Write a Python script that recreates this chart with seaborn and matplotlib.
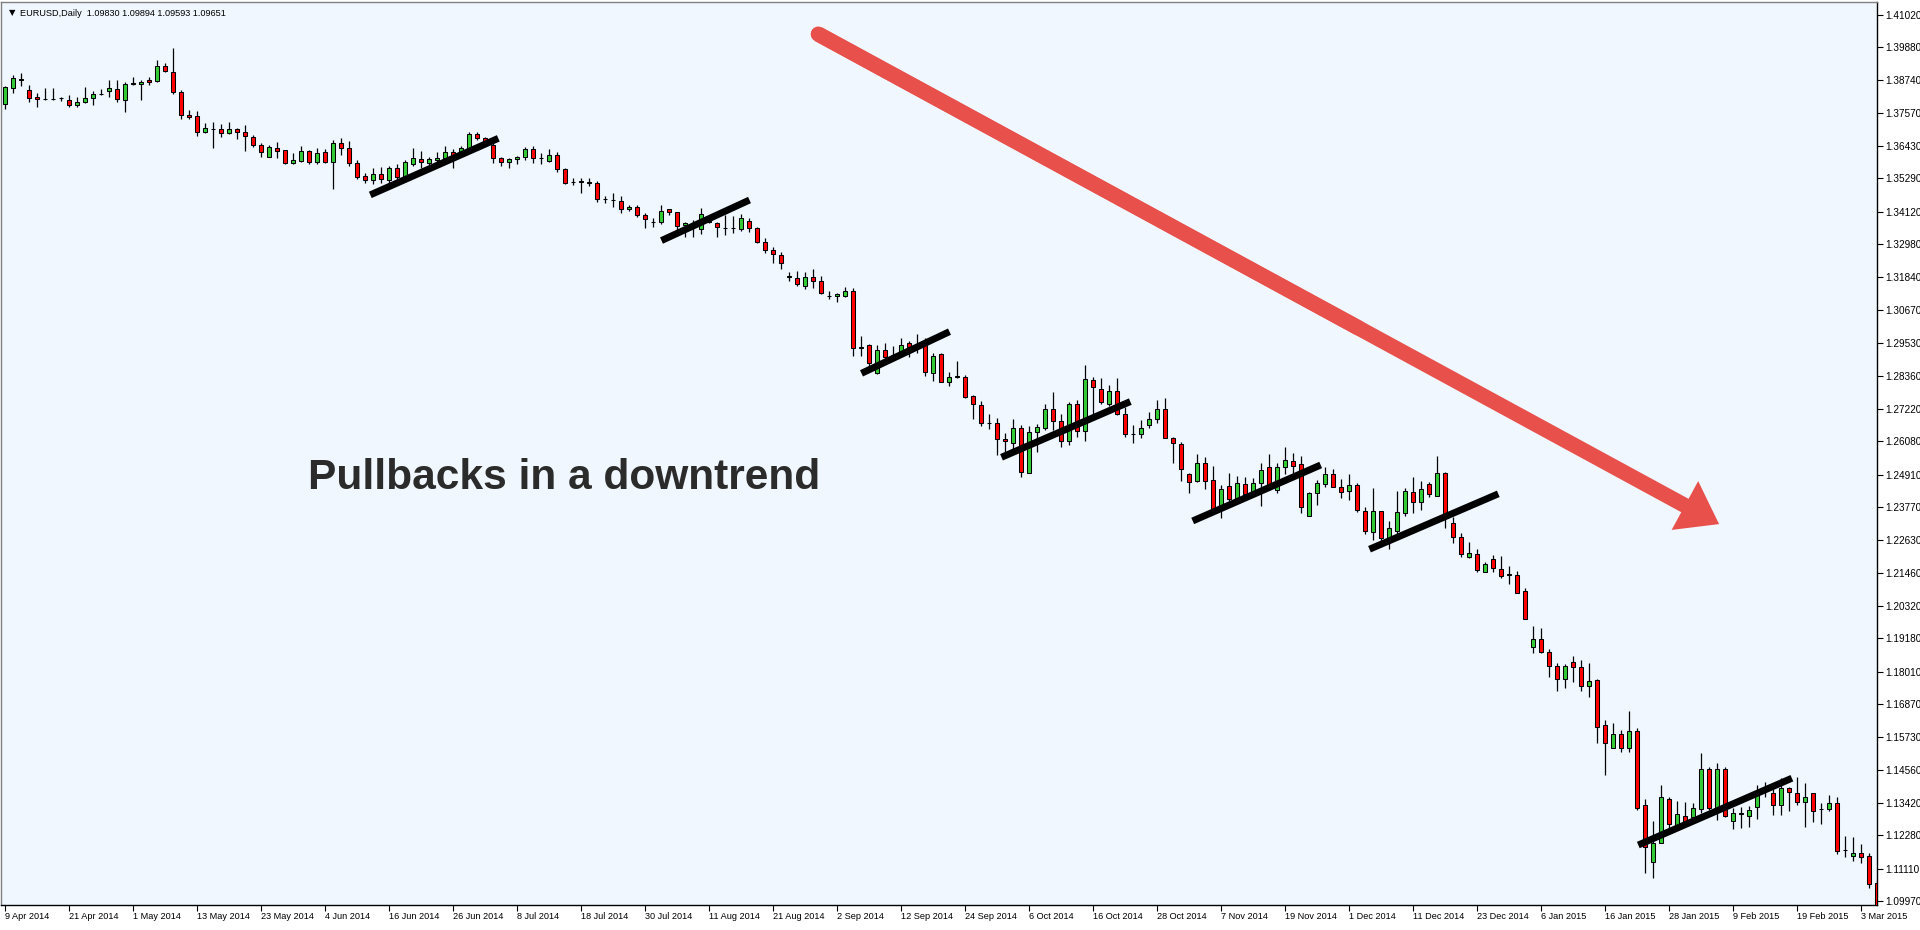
import numpy as np
import pandas as pd
import matplotlib
matplotlib.use("Agg")
import matplotlib.pyplot as plt
import seaborn as sns
from matplotlib.patches import FancyArrowPatch, ArrowStyle

# ---------------- data (EURUSD daily) ----------------
opens = [1.3789,1.3845,1.3877,1.3838,1.3813,1.3807,1.3807,1.3812,1.3803,1.3785,
1.3795,1.3809,1.3824,1.3834,1.3841,1.3803,1.3862,1.3858,1.3873,1.3869,
1.3921,1.3901,1.3830,1.3750,1.3746,1.3692,1.3702,1.3701,1.3687,1.3701,
1.3690,1.3675,1.3646,1.3605,1.3634,1.3628,1.3582,1.3590,1.3625,1.3587,
1.3620,1.3587,1.3652,1.3634,1.3582,1.3536,1.3522,1.3544,1.3523,1.3564,
1.3535,1.3579,1.3596,1.3582,1.3593,1.3599,1.3620,1.3620,1.3634,1.3683,
1.3669,1.3646,1.3599,1.3585,1.3596,1.3603,1.3631,1.3599,1.3591,1.3611,
1.3561,1.3517,1.3516,1.3517,1.3512,1.3457,1.3453,1.3451,1.3421,1.3427,
1.3401,1.3375,1.3377,1.3421,1.3412,1.3366,1.3371,1.3350,1.3377,1.3371,
1.3354,1.3354,1.3351,1.3381,1.3354,1.3307,1.3278,1.3260,1.3184,1.3179,
1.3153,1.3182,1.3170,1.3117,1.3117,1.3118,1.3135,1.2934,1.2944,1.2846,
1.2928,1.2910,1.2922,1.2951,1.2934,1.2957,1.2846,1.2913,1.2817,1.2834,
1.2834,1.2767,1.2735,1.2671,1.2671,1.2616,1.2601,1.2654,1.2496,1.2640,
1.2654,1.2720,1.2679,1.2610,1.2739,1.2645,1.2823,1.2791,1.2738,1.2785,
1.2703,1.2633,1.2634,1.2665,1.2685,1.2720,1.2619,1.2599,1.2492,1.2470,
1.2531,1.2472,1.2371,1.2453,1.2408,1.2457,1.2431,1.2461,1.2517,1.2437,
1.2517,1.2539,1.2527,1.2347,1.2426,1.2457,1.2492,1.2449,1.2435,1.2455,
1.2365,1.2291,1.2364,1.2268,1.2295,1.2356,1.2429,1.2394,1.2457,1.2417,
1.2496,1.2323,1.2272,1.2204,1.2212,1.2151,1.2195,1.2160,1.2141,1.2139,
1.2084,1.1887,1.1915,1.1871,1.1821,1.1774,1.1834,1.1816,1.1751,1.1772,
1.1613,1.1533,1.1582,1.1533,1.1593,1.1334,1.1134,1.1202,1.1354,1.1264,
1.1297,1.1291,1.1319,1.1459,1.1323,1.1459,1.1279,1.1304,1.1297,1.1326,
1.1383,1.1375,1.1333,1.1393,1.1375,1.1346,1.1375,1.1319,1.1319,1.1340,
1.1177,1.1157,1.1165,1.1156,1.1060]

highs = [1.3852,1.3891,1.3898,1.3856,1.3829,1.3845,1.3846,1.3815,1.3821,1.3815,
1.3848,1.3836,1.3841,1.3873,1.3873,1.3867,1.3883,1.3873,1.3883,1.3943,
1.3933,1.3984,1.3838,1.3768,1.3765,1.3722,1.3725,1.3719,1.3725,1.3704,
1.3716,1.3681,1.3652,1.3646,1.3657,1.3628,1.3617,1.3642,1.3628,1.3636,
1.3631,1.3663,1.3669,1.3660,1.3593,1.3547,1.3564,1.3570,1.3572,1.3578,
1.3593,1.3634,1.3625,1.3603,1.3620,1.3642,1.3631,1.3642,1.3690,1.3690,
1.3673,1.3652,1.3603,1.3599,1.3608,1.3640,1.3642,1.3617,1.3631,1.3620,
1.3564,1.3530,1.3530,1.3530,1.3520,1.3467,1.3477,1.3467,1.3436,1.3436,
1.3409,1.3389,1.3436,1.3421,1.3412,1.3377,1.3383,1.3424,1.3390,1.3377,
1.3400,1.3397,1.3404,1.3389,1.3360,1.3320,1.3288,1.3271,1.3200,1.3204,
1.3200,1.3210,1.3187,1.3134,1.3128,1.3147,1.3144,1.2977,1.2949,1.2945,
1.2951,1.2942,1.2969,1.2960,1.2984,1.2969,1.2918,1.2916,1.2852,1.2889,
1.2840,1.2770,1.2749,1.2704,1.2689,1.2636,1.2686,1.2665,1.2662,1.2669,
1.2739,1.2780,1.2704,1.2747,1.2753,1.2875,1.2832,1.2829,1.2805,1.2829,
1.2729,1.2665,1.2683,1.2710,1.2753,1.2759,1.2624,1.2607,1.2498,1.2564,
1.2554,1.2521,1.2455,1.2496,1.2486,1.2482,1.2478,1.2533,1.2564,1.2531,
1.2587,1.2566,1.2558,1.2431,1.2472,1.2517,1.2510,1.2475,1.2493,1.2461,
1.2377,1.2443,1.2364,1.2330,1.2434,1.2443,1.2482,1.2470,1.2467,1.2556,
1.2501,1.2342,1.2286,1.2256,1.2231,1.2186,1.2210,1.2206,1.2171,1.2154,
1.2093,1.1961,1.1953,1.1879,1.1830,1.1828,1.1856,1.1842,1.1830,1.1776,
1.1632,1.1621,1.1597,1.1663,1.1604,1.1354,1.1278,1.1404,1.1363,1.1348,
1.1346,1.1342,1.1517,1.1468,1.1480,1.1466,1.1323,1.1326,1.1331,1.1404,
1.1416,1.1393,1.1428,1.1398,1.1433,1.1410,1.1375,1.1340,1.1369,1.1361,
1.1226,1.1223,1.1198,1.1165,1.1070]

lows = [1.3772,1.3828,1.3852,1.3797,1.3780,1.3803,1.3803,1.3799,1.3778,1.3778,
1.3792,1.3785,1.3821,1.3815,1.3797,1.3762,1.3855,1.3803,1.3855,1.3865,
1.3901,1.3823,1.3737,1.3736,1.3678,1.3689,1.3636,1.3675,1.3683,1.3667,
1.3626,1.3640,1.3605,1.3603,1.3601,1.3578,1.3578,1.3587,1.3578,1.3578,
1.3584,1.3492,1.3611,1.3573,1.3526,1.3512,1.3509,1.3512,1.3512,1.3523,
1.3533,1.3573,1.3564,1.3576,1.3587,1.3591,1.3566,1.3617,1.3632,1.3663,
1.3652,1.3584,1.3573,1.3566,1.3578,1.3593,1.3582,1.3579,1.3587,1.3552,
1.3509,1.3506,1.3479,1.3502,1.3447,1.3444,1.3427,1.3409,1.3416,1.3392,
1.3356,1.3360,1.3369,1.3401,1.3348,1.3324,1.3324,1.3334,1.3371,1.3324,
1.3331,1.3337,1.3345,1.3342,1.3301,1.3267,1.3232,1.3210,1.3170,1.3152,
1.3140,1.3146,1.3123,1.3106,1.3097,1.3112,1.2908,1.2908,1.2872,1.2844,
1.2893,1.2893,1.2904,1.2904,1.2916,1.2837,1.2820,1.2817,1.2803,1.2829,
1.2761,1.2685,1.2663,1.2650,1.2560,1.2566,1.2578,1.2484,1.2496,1.2572,
1.2648,1.2648,1.2589,1.2595,1.2622,1.2610,1.2694,1.2739,1.2732,1.2700,
1.2622,1.2601,1.2621,1.2654,1.2671,1.2619,1.2533,1.2470,1.2426,1.2467,
1.2440,1.2367,1.2340,1.2396,1.2391,1.2414,1.2426,1.2381,1.2449,1.2428,
1.2493,1.2496,1.2358,1.2346,1.2385,1.2447,1.2447,1.2410,1.2402,1.2361,
1.2283,1.2262,1.2256,1.2231,1.2276,1.2346,1.2356,1.2367,1.2414,1.2417,
1.2305,1.2251,1.2204,1.2198,1.2149,1.2149,1.2151,1.2128,1.2108,1.2076,
1.1985,1.1868,1.1866,1.1784,1.1735,1.1745,1.1766,1.1735,1.1711,1.1550,
1.1439,1.1533,1.1521,1.1521,1.1317,1.1095,1.1078,1.1202,1.1253,1.1253,
1.1264,1.1284,1.1307,1.1317,1.1282,1.1291,1.1249,1.1253,1.1258,1.1284,
1.1361,1.1299,1.1299,1.1314,1.1334,1.1258,1.1276,1.1268,1.1314,1.1163,
1.1153,1.1139,1.1132,1.1043,1.0960]

closes = [1.3849,1.3880,1.3875,1.3811,1.3806,1.3806,1.3808,1.3809,1.3785,1.3796,
1.3809,1.3823,1.3823,1.3844,1.3806,1.3858,1.3859,1.3865,1.3865,1.3922,
1.3904,1.3830,1.3750,1.3743,1.3692,1.3704,1.3701,1.3687,1.3701,1.3692,
1.3677,1.3646,1.3622,1.3638,1.3626,1.3582,1.3592,1.3625,1.3587,1.3617,
1.3587,1.3652,1.3634,1.3584,1.3535,1.3522,1.3543,1.3528,1.3564,1.3535,
1.3585,1.3599,1.3587,1.3596,1.3599,1.3620,1.3608,1.3636,1.3684,1.3669,
1.3657,1.3599,1.3585,1.3596,1.3604,1.3631,1.3599,1.3600,1.3611,1.3561,
1.3514,1.3515,1.3518,1.3512,1.3456,1.3456,1.3452,1.3421,1.3427,1.3401,
1.3386,1.3376,1.3416,1.3410,1.3363,1.3371,1.3373,1.3403,1.3380,1.3357,
1.3355,1.3355,1.3389,1.3354,1.3307,1.3278,1.3264,1.3231,1.3186,1.3158,
1.3182,1.3170,1.3126,1.3116,1.3124,1.3135,1.2934,1.2939,1.2881,1.2928,
1.2904,1.2909,1.2944,1.2937,1.2935,1.2852,1.2908,1.2817,1.2834,1.2836,
1.2764,1.2738,1.2671,1.2672,1.2615,1.2609,1.2654,1.2499,1.2640,1.2657,
1.2720,1.2679,1.2609,1.2739,1.2644,1.2825,1.2797,1.2745,1.2785,1.2703,
1.2633,1.2634,1.2654,1.2685,1.2720,1.2619,1.2601,1.2510,1.2467,1.2531,
1.2470,1.2371,1.2440,1.2405,1.2461,1.2422,1.2461,1.2508,1.2455,1.2519,
1.2543,1.2523,1.2377,1.2426,1.2461,1.2492,1.2449,1.2431,1.2455,1.2367,
1.2295,1.2364,1.2268,1.2303,1.2359,1.2434,1.2396,1.2440,1.2422,1.2496,
1.2350,1.2272,1.2212,1.2216,1.2157,1.2177,1.2163,1.2136,1.2142,1.2076,
1.1985,1.1915,1.1871,1.1822,1.1774,1.1821,1.1816,1.1752,1.1770,1.1609,
1.1550,1.1582,1.1533,1.1593,1.1324,1.1188,1.1202,1.1361,1.1267,1.1302,
1.1276,1.1323,1.1459,1.1323,1.1459,1.1296,1.1305,1.1305,1.1317,1.1369,
1.1387,1.1333,1.1393,1.1379,1.1346,1.1361,1.1314,1.1320,1.1340,1.1174,
1.1178,1.1165,1.1153,1.1057,1.0975]

x_labels = ["9 Apr 2014", "21 Apr 2014", "1 May 2014", "13 May 2014", "23 May 2014",
            "4 Jun 2014", "16 Jun 2014", "26 Jun 2014", "8 Jul 2014", "18 Jul 2014",
            "30 Jul 2014", "11 Aug 2014", "21 Aug 2014", "2 Sep 2014", "12 Sep 2014",
            "24 Sep 2014", "6 Oct 2014", "16 Oct 2014", "28 Oct 2014", "7 Nov 2014",
            "19 Nov 2014", "1 Dec 2014", "11 Dec 2014", "23 Dec 2014", "6 Jan 2015",
            "16 Jan 2015", "28 Jan 2015", "9 Feb 2015", "19 Feb 2015", "3 Mar 2015"]
bars_per_label = 8

y_ticks = [1.41020, 1.39880, 1.38740, 1.37570, 1.36430, 1.35290, 1.34120, 1.32980,
           1.31840, 1.30670, 1.29530, 1.28360, 1.27220, 1.26080, 1.24910, 1.23770,
           1.22630, 1.21460, 1.20320, 1.19180, 1.18010, 1.16870, 1.15730, 1.14560,
           1.13420, 1.12280, 1.11110, 1.09970]

header_text = "EURUSD,Daily  1.09830 1.09894 1.09593 1.09651"
title_text = "Pullbacks in a downtrend"

# pullback trend lines: (bar0, price0, bar1, price1)
pullback_lines = [(45.6, 1.3471, 61.6, 1.3669),
                  (82.0, 1.3311, 93.0, 1.3453),
                  (107.0, 1.2846, 118.0, 1.2992),
                  (124.5, 1.2552, 140.6, 1.2747),
                  (148.4, 1.2329, 164.4, 1.2525),
                  (170.5, 1.2230, 186.6, 1.2424),
                  (204.1, 1.1194, 223.3, 1.1428)]
# big trend arrow (bar, price) start -> tip
arrow_start = (101.6, 1.4034)
arrow_tip = (214.2, 1.2318)

# ---------------- style ----------------
sns.set_style("white")
plt.rcParams['font.family'] = ['Liberation Sans', 'DejaVu Sans']

W, H = 1920, 930
fig = plt.figure(figsize=(W / 100, H / 100), dpi=100, facecolor="white")
ax = fig.add_axes([1 / W, 1 - 905 / H, 1876 / W, 903 / H])
ax.set_facecolor("#f0f7ff")

df = pd.DataFrame({"o": opens, "h": highs, "l": lows, "c": closes})
df["i"] = np.arange(len(df))

# wicks
ax.vlines(df["i"], df["l"], df["h"], color="black", linewidth=0.9, zorder=2)
# bodies
body_bottom = np.minimum(df["o"], df["c"])
body_h = np.maximum(np.abs(df["c"] - df["o"]), 0.00005)
colors = np.where(df["c"] > df["o"], "#32cd32", np.where(df["c"] < df["o"], "#ff0000", "black"))
ax.bar(df["i"], body_h, bottom=body_bottom, width=0.5, color=colors,
       edgecolor="black", linewidth=0.75, zorder=3)

# pullback lines via seaborn
seg_rows = []
for k, (x0, p0, x1, p1) in enumerate(pullback_lines):
    seg_rows.append({"seg": k, "x": x0, "y": p0})
    seg_rows.append({"seg": k, "x": x1, "y": p1})
seg_df = pd.DataFrame(seg_rows)
sns.lineplot(data=seg_df, x="x", y="y", units="seg", estimator=None, color="black",
             linewidth=5.0, ax=ax, zorder=5, solid_capstyle="butt", sort=False)

# big red arrow
red = "#e8504b"
ax.plot([arrow_start[0], arrow_start[0] + 0.6 * (arrow_tip[0] - arrow_start[0])],
        [arrow_start[1], arrow_start[1] + 0.6 * (arrow_tip[1] - arrow_start[1])],
        color=red, linewidth=11, solid_capstyle="round", zorder=6)
arr = FancyArrowPatch(arrow_start, arrow_tip,
                      arrowstyle=ArrowStyle.Simple(head_length=28, head_width=40, tail_width=11),
                      mutation_scale=1, color=red, linewidth=0, shrinkA=0, shrinkB=0, zorder=6)
ax.add_patch(arr)

# big text
ax.text(37.8, 1.2478, title_text, fontsize=30.6, fontweight="bold", color="#2b2b2b",
        ha="left", va="center", zorder=7)

# header
fig.text(9 / W, 1 - 13 / H, "\u25bc", fontsize=6, color="black", va="center", ha="left",
         family=["DejaVu Sans"])
fig.text(20 / W, 1 - 13 / H, header_text, fontsize=6.6, color="black", va="center", ha="left")

# axes limits and ticks
ax.set_xlim(-0.5625, 233.94)
ax.set_ylim(1.0984, 1.41465)
ax.set_xlabel("")
ax.set_ylabel("")
ax.yaxis.tick_right()
ax.set_yticks(y_ticks)
ax.set_yticklabels([f"{v:.5f}" for v in y_ticks])
xt = np.arange(len(x_labels)) * bars_per_label
ax.set_xticks(xt)
ax.set_xticklabels(x_labels)
for lbl in ax.get_xticklabels():
    lbl.set_ha("left")
ax.tick_params(axis="y", direction="out", length=4, width=0.8, labelsize=7.2, pad=2,
               colors="black", right=True, left=False)
ax.tick_params(axis="x", direction="out", length=4, width=0.8, labelsize=6.6, pad=1,
               colors="black", bottom=True)
for s in ["left", "top", "bottom", "right"]:
    ax.spines[s].set_visible(True)
    ax.spines[s].set_color("black")
    ax.spines[s].set_linewidth(1.0)
ax.spines["left"].set_color("#808080")
ax.spines["top"].set_color("#808080")

fig.savefig("out.png", dpi=100, facecolor="white")
